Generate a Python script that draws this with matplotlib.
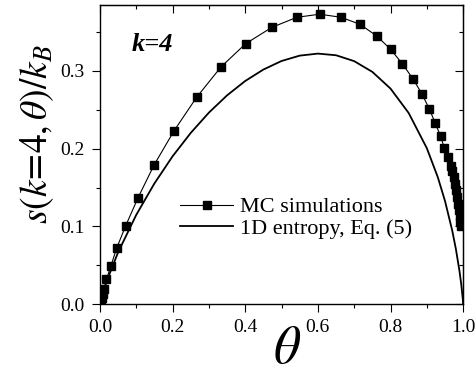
import numpy as np
import matplotlib
matplotlib.use("Agg")
import matplotlib.pyplot as plt

plt.rcParams['font.family'] = ['Liberation Serif', 'DejaVu Serif']
plt.rcParams['mathtext.fontset'] = 'stix'

# MC simulation points
theta_mc = [0.002, 0.005, 0.008, 0.012, 0.018, 0.030, 0.046, 0.071, 0.105, 0.149,
            0.204, 0.266, 0.333, 0.401, 0.473, 0.542, 0.605, 0.664, 0.716, 0.762,
            0.800, 0.833, 0.863, 0.887, 0.907, 0.923, 0.938, 0.948, 0.957, 0.966,
            0.970, 0.974, 0.977, 0.980, 0.983, 0.986, 0.988, 0.990, 0.992, 0.994]
s_mc = [0.003, 0.008, 0.013, 0.020, 0.032, 0.049, 0.072, 0.101, 0.137, 0.179,
        0.223, 0.266, 0.305, 0.335, 0.356, 0.369, 0.373, 0.369, 0.360, 0.345,
        0.328, 0.309, 0.289, 0.270, 0.251, 0.233, 0.216, 0.201, 0.189, 0.178,
        0.171, 0.163, 0.155, 0.147, 0.138, 0.129, 0.121, 0.113, 0.106, 0.100]

# 1D entropy curve
theta_1d = [0.0, 0.005, 0.01, 0.02, 0.05, 0.10, 0.15, 0.20, 0.25, 0.30, 0.35, 0.40,
            0.45, 0.50, 0.55, 0.60, 0.65, 0.70, 0.75, 0.80, 0.85, 0.90, 0.93, 0.95,
            0.97, 0.98, 0.99, 0.995, 0.999, 1.0]
s_1d = [0.0, 0.0096, 0.0175, 0.0314, 0.0667, 0.1149, 0.1553, 0.1902, 0.2203, 0.2464,
        0.2686, 0.2871, 0.3018, 0.3128, 0.3197, 0.3223, 0.3202, 0.3126, 0.2988, 0.2773,
        0.2459, 0.2006, 0.1636, 0.1328, 0.0945, 0.0709, 0.0423, 0.0246, 0.0065, 0.0]

fig = plt.figure(figsize=(4.76, 3.75), dpi=100)
ax = fig.add_axes([0.210, 0.189, 0.763, 0.798])

ax.plot(theta_mc, s_mc, color='black', lw=0.8, marker='s', ms=6.2,
        label='MC simulations')
ax.plot(theta_1d, s_1d, color='black', lw=1.3, label='1D entropy, Eq. (5)')

ax.set_xlim(0, 1.0)
ax.set_ylim(0, 0.385)
ax.set_xticks([0.0, 0.2, 0.4, 0.6, 0.8, 1.0])
ax.set_xticks(np.arange(0.1, 1.0, 0.2), minor=True)
ax.set_yticks([0.0, 0.1, 0.2, 0.3])
ax.set_yticks([0.05, 0.15, 0.25, 0.35], minor=True)
ax.xaxis.set_major_formatter('{x:.1f}')
ax.yaxis.set_major_formatter('{x:.1f}')

for sp in ax.spines.values():
    sp.set_linewidth(1.0)
ax.tick_params(which='both', direction='out', width=0.8, labelsize=14, pad=5)
ax.tick_params(which='major', length=6)
ax.tick_params(which='minor', length=3.2)

# inward ticks on top and right
top = ax.secondary_xaxis('top')
top.set_xticks([0.0, 0.2, 0.4, 0.6, 0.8, 1.0])
top.set_xticks(np.arange(0.1, 1.0, 0.2), minor=True)
top.tick_params(which='both', direction='in', width=0.8, labeltop=False)
top.tick_params(which='major', length=6)
top.tick_params(which='minor', length=3.2)
right = ax.secondary_yaxis('right')
right.set_yticks([0.0, 0.1, 0.2, 0.3])
right.set_yticks([0.05, 0.15, 0.25, 0.35], minor=True)
right.tick_params(which='both', direction='in', width=0.8, labelright=False)
right.tick_params(which='major', length=6)
right.tick_params(which='minor', length=3.2)

ax.set_xlabel(r'$\theta$', fontsize=38, va='center')
ax.xaxis.set_label_coords(0.514, -0.154)
ax.set_ylabel(r'$s(k\!=\!4,\theta)/k_B$', fontsize=27, va='center')
ax.yaxis.set_label_coords(-0.172, 0.569)

ax.text(0.088, 0.866, 'k=4', transform=ax.transAxes, fontsize=19,
        fontweight='bold', fontstyle='italic', ha='left', va='center')

ax.legend(loc='center left', bbox_to_anchor=(0.22, 0.288), frameon=False,
          fontsize=16, handlelength=2.4, handletextpad=0.3, labelspacing=0.05,
          borderpad=0, borderaxespad=0)

fig.savefig('out.png', dpi=100)
